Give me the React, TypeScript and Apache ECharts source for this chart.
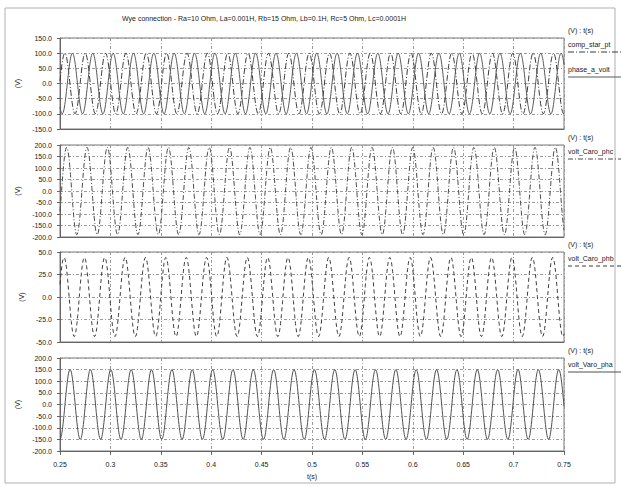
import React, { useEffect, useRef } from "react";
import * as echarts from "echarts";

// ---------- data ----------
const TITLE =
  "Wye connection - Ra=10 Ohm, La=0.001H, Rb=15 Ohm, Lb=0.1H, Rc=5 Ohm, Lc=0.0001H";
const X_MIN = 0.25;
const X_MAX = 0.75;
const X_STEP = 0.05;
const X_NAME = "t(s)";
const Y_NAME = "(V)";
const LEGEND_HEADER = "(V) : t(s)";

const SERIES_NAMES = ["comp_star_pt", "phase_a_volt", "volt_Caro_phc", "volt_Caro_phb", "volt_Varo_pha"];
const SERIES_PANEL = [0, 0, 1, 2, 3];
// amplitude (V), time of first peak (s) and period (s)
const SERIES_AMPLITUDE = [100, 100, 190, 44, 150];
const SERIES_FIRST_PEAK = [0.2548, 0.2623, 0.2566, 0.254, 0.26];
const WAVE_PERIOD = 0.0202;
const SAMPLE_STEP = 0.0004;

const PANEL_Y_MIN = [-150, -200, -50, -200];
const PANEL_Y_MAX = [150, 200, 50, 200];
const PANEL_Y_STEP = [50, 50, 25, 50];

// ---------- styles / layout ----------
const PANEL_TOP = [38, 145, 252, 358];
const PANEL_HEIGHT = [91, 92, 90, 93];
const GRID_LEFT = 60;
const GRID_RIGHT = 57;
const SERIES_COLOR = ["#3a3a3a", "#5a5a5a", "#4a4a4a", "#3a3a3a", "#505050"];
const SERIES_DASH: (string | number[])[] = [[6, 2, 1, 2], "solid", [5, 2, 1, 2], [4, 3], "solid"];
const FONT = "Liberation Sans, Arial, sans-serif";

function buildSeriesData(i: number): [number, number][] {
  const out: [number, number][] = [];
  const n = Math.round((X_MAX - X_MIN) / SAMPLE_STEP);
  for (let k = 0; k <= n; k++) {
    const t = X_MIN + k * SAMPLE_STEP;
    const v = SERIES_AMPLITUDE[i] * Math.cos((2 * Math.PI * (t - SERIES_FIRST_PEAK[i])) / WAVE_PERIOD);
    out.push([+t.toFixed(5), +v.toFixed(3)]);
  }
  return out;
}

export default function App() {
  const ref = useRef<HTMLDivElement>(null);
  useEffect(() => {
    if (!ref.current) return;
    const chart = echarts.init(ref.current, undefined, { renderer: "svg" });
    const nPanels = PANEL_TOP.length;
    const grid = PANEL_TOP.map((top, i) => ({
      left: GRID_LEFT,
      right: GRID_RIGHT,
      top,
      height: PANEL_HEIGHT[i],
      show: true,
      borderColor: "#7a7a7a",
      borderWidth: 1,
      backgroundColor: "transparent",
    }));
    const xAxis = PANEL_TOP.map((_, i) => {
      const last = i === nPanels - 1;
      return {
        type: "value",
        gridIndex: i,
        min: X_MIN,
        max: X_MAX,
        interval: X_STEP,
        name: last ? X_NAME : "",
        nameLocation: "middle",
        nameGap: 22,
        nameTextStyle: { fontSize: 7, color: "#222", fontFamily: FONT },
        axisLine: { show: true, onZero: false, lineStyle: { color: "#666" } },
        axisTick: { show: last, length: 4, lineStyle: { color: "#666" } },
        axisLabel: {
          show: last,
          fontSize: 7,
          color: "#222",
          fontFamily: FONT,
          margin: 10,
          formatter: (v: number) => String(+v.toFixed(2)),
        },
        splitLine: {
          show: true,
          lineStyle: { color: "#9a9a9a", type: [3, 2, 1, 2], width: 1 },
        },
      };
    });
    const yAxis = PANEL_TOP.map((_, i) => ({
      type: "value",
      gridIndex: i,
      min: PANEL_Y_MIN[i],
      max: PANEL_Y_MAX[i],
      interval: PANEL_Y_STEP[i],
      name: Y_NAME,
      nameLocation: "middle",
      nameRotate: 90,
      nameGap: 22,
      nameTextStyle: { fontSize: 7, color: "#222", fontFamily: FONT },
      axisLine: { show: true, onZero: false, lineStyle: { color: "#666" } },
      axisTick: { show: true, length: 3, lineStyle: { color: "#666" } },
      axisLabel: {
        fontSize: 7,
        color: "#222",
        fontFamily: FONT,
        margin: 8,
        formatter: (v: number) => v.toFixed(1),
      },
      splitLine: {
        show: true,
        lineStyle: { color: "#9a9a9a", type: [3, 2, 1, 2], width: 1 },
      },
    }));
    const series = SERIES_NAMES.map((name, i) => ({
      type: "line",
      name,
      xAxisIndex: SERIES_PANEL[i],
      yAxisIndex: SERIES_PANEL[i],
      data: buildSeriesData(i),
      showSymbol: false,
      symbol: "none",
      lineStyle: { color: SERIES_COLOR[i], width: 1, type: SERIES_DASH[i] },
    }));

    const graphic: any[] = [
      {
        type: "rect",
        shape: { x: 5, y: 8, width: 610, height: 475 },
        style: { fill: "none", stroke: "#b0b0b0", lineWidth: 1 },
        silent: true,
      },
      {
        type: "text",
        x: 264,
        y: 18,
        style: {
          text: TITLE,
          fontSize: 7,
          fontFamily: FONT,
          fill: "#222",
          textAlign: "center",
          textVerticalAlign: "middle",
        },
      },
    ];
    const LEG_X = 568;
    PANEL_TOP.forEach((top, p) => {
      graphic.push({
        type: "text",
        x: LEG_X,
        y: top - 8,
        style: {
          text: LEGEND_HEADER,
          fontSize: 7,
          fontFamily: FONT,
          fill: "#222",
          textVerticalAlign: "middle",
        },
      });
      let k = 0;
      SERIES_NAMES.forEach((name, i) => {
        if (SERIES_PANEL[i] !== p) return;
        const ty = top + 6 + k * 25;
        graphic.push({
          type: "text",
          x: LEG_X,
          y: ty,
          style: {
            text: name,
            fontSize: 7,
            fontFamily: FONT,
            fill: "#222",
            textVerticalAlign: "middle",
          },
        });
        const dash = SERIES_DASH[i];
        graphic.push({
          type: "line",
          shape: { x1: LEG_X, y1: ty + 8, x2: 621, y2: ty + 8 },
          style: {
            stroke: SERIES_COLOR[i],
            lineWidth: 1,
            lineDash: Array.isArray(dash) ? dash : null,
          },
        });
        k++;
      });
    });

    chart.setOption({
      animation: false,
      backgroundColor: "#ffffff",
      grid,
      xAxis,
      yAxis,
      series,
      graphic,
    });
    return () => chart.dispose();
  }, []);
  return (
    <div
      ref={ref}
      style={{ position: "absolute", left: 0, top: 0, width: 621, height: 487, background: "#fff" }}
    />
  );
}
